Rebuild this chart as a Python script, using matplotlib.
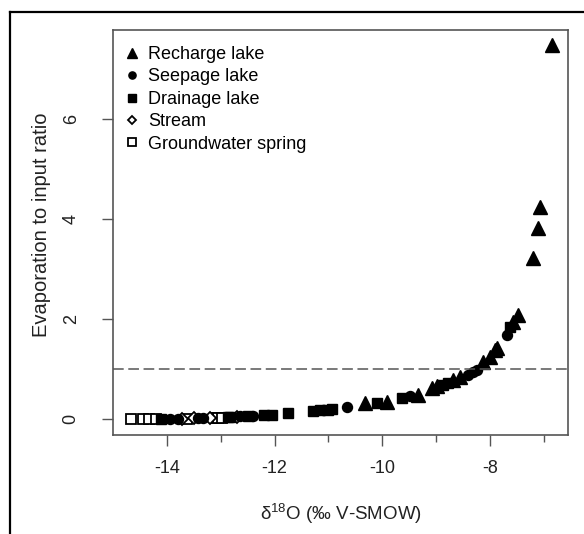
import numpy as np
import matplotlib.pyplot as plt
from matplotlib.lines import Line2D

plt.rcParams['font.family'] = ['Liberation Sans', 'DejaVu Sans']
plt.rcParams['axes.unicode_minus'] = False

# delta 18O (x) and evaporation-to-input ratio (y)
recharge_x = [-10.32, -9.91, -9.33, -9.07, -8.98, -8.68, -8.55, -8.13, -8.0,
              -7.9, -7.87, -7.57, -7.48, -7.2, -7.1, -7.07, -6.84]
recharge_y = [0.32, 0.34, 0.48, 0.62, 0.66, 0.78, 0.84, 1.14, 1.24,
              1.38, 1.42, 1.94, 2.08, 3.22, 3.82, 4.24, 7.48]

seepage_x = [-13.95, -13.8, -13.42, -13.33, -12.64, -12.4, -11.1, -10.65,
             -9.48, -8.4, -8.31, -8.24, -7.68]
seepage_y = [0.0, 0.01, 0.02, 0.03, 0.06, 0.07, 0.18, 0.24,
             0.46, 0.88, 0.94, 0.98, 1.68]

drainage_x = [-14.1, -12.87, -12.83, -12.5, -12.2, -12.05, -11.75, -11.28,
              -11.15, -11.0, -10.93, -10.1, -9.63, -8.87, -8.78, -7.62]
drainage_y = [0.0, 0.05, 0.05, 0.07, 0.08, 0.09, 0.12, 0.17,
              0.18, 0.19, 0.2, 0.32, 0.42, 0.68, 0.72, 1.84]

stream_x = [-13.72, -13.5, -13.2, -12.7]
stream_y = [0.01, 0.02, 0.03, 0.05]

spring_x = [-14.67, -14.45, -14.33, -14.2, -13.63, -13.1, -13.05, -12.98]
spring_y = [0.0, 0.0, 0.0, 0.0, 0.01, 0.02, 0.02, 0.03]

W, H = 584, 534
fig = plt.figure(figsize=(W / 100, H / 100), dpi=100)
ax = fig.add_axes([113 / W, 1 - 435 / H, (568 - 113) / W, (435 - 30) / H])

gray = '#555555'
txt = '#222222'
ms = 7.2
ax.plot(spring_x, spring_y, 's', ms=ms, mfc='white', mec='black', mew=1.3,
        label='Groundwater spring')
ax.plot(stream_x, stream_y, 'D', ms=ms - 1, mfc='white', mec='black', mew=1.3,
        label='Stream')
ax.plot(drainage_x, drainage_y, 's', ms=ms, color='black', label='Drainage lake')
ax.plot(seepage_x, seepage_y, 'o', ms=ms, color='black', label='Seepage lake')
ax.plot(recharge_x, recharge_y, '^', ms=ms + 2.3, color='black', label='Recharge lake')

ax.axhline(1, color=gray, lw=1.1, dashes=(7, 3))

ax.set_xlim(-15.0, -6.55)
ax.set_ylim(-0.32, 7.78)

ax.set_xticks([-14, -12, -10, -8])
ax.set_xticks([-13, -11, -9, -7], minor=True)
ax.set_yticks([0, 2, 4, 6])
ax.tick_params(axis='both', which='major', length=8, width=1, color=gray,
               labelsize=13, labelcolor=txt)
ax.tick_params(axis='x', which='major', pad=10)
ax.tick_params(axis='y', which='major', pad=16)
ax.tick_params(axis='x', which='minor', length=5, width=1, color=gray)
for lab in ax.get_yticklabels():
    lab.set_rotation(90)
    lab.set_va('center')

for sp in ax.spines.values():
    sp.set_color(gray)
    sp.set_linewidth(1.2)

ax.set_xlabel(r'$\mathregular{\delta^{18}}$O (‰ V-SMOW)', fontsize=13.5,
              color=txt, labelpad=18)
ax.set_ylabel('Evaporation to input ratio', fontsize=14.5, color=txt)
ax.yaxis.set_label_coords(-0.136, 0.52)

h, l = ax.get_legend_handles_labels()
order = [4, 3, 2, 1, 0]
ax.legend([h[i] for i in order], [l[i] for i in order], loc='upper left',
          bbox_to_anchor=(123 / W, 1 - 46 / H), bbox_transform=fig.transFigure,
          frameon=False, fontsize=13, handlelength=1.0, handletextpad=0.4,
          labelspacing=0.3, borderpad=0, borderaxespad=0, markerscale=0.72)

# outer frame of the original screenshot
fig.add_artist(Line2D([10 / W, 10 / W], [0, 1 - 12 / H], color='black', lw=1.6,
                      transform=fig.transFigure))
fig.add_artist(Line2D([10 / W, 1], [1 - 12 / H, 1 - 12 / H], color='black', lw=1.6,
                      transform=fig.transFigure))

fig.savefig('out.png', dpi=100)
